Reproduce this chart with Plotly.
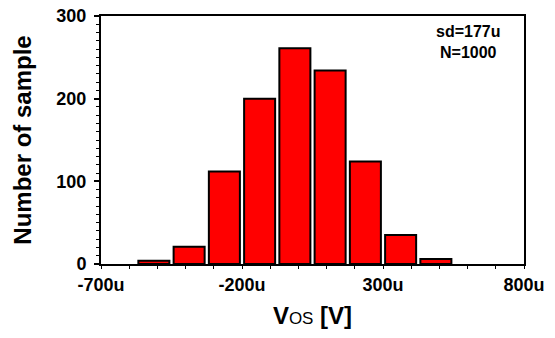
import plotly.graph_objects as go

# bin centers in microvolts, bin width 125u
bin_centers = [-512.5, -387.5, -262.5, -137.5, -12.5, 112.5, 237.5, 362.5, 487.5]
counts = [4, 21, 112, 200, 261, 234, 124, 35, 6]
x_tickvals = [-700, -200, 300, 800]
x_ticktext = ["-700u", "-200u", "300u", "800u"]
y_tickvals = [0, 100, 200, 300]
stats_text = "sd=177u<br>N=1000"

FONT = "Arial, Liberation Sans, sans-serif"

fig = go.Figure()
fig.add_trace(go.Bar(
    x=bin_centers, y=counts, width=[110] * len(bin_centers),
    marker=dict(color="#FF0000", line=dict(color="black", width=2)),
))

fig.update_layout(
    width=555, height=338,
    margin=dict(l=101, r=31, t=16, b=74),
    paper_bgcolor="white", plot_bgcolor="white",
    showlegend=False,
    font=dict(family=FONT, color="black"),
)
fig.update_xaxes(
    range=[-700, 800], tickvals=x_tickvals, ticktext=x_ticktext, automargin=False,
    tickfont=dict(size=18, family=FONT, weight="bold"),
    showline=True, linecolor="black", linewidth=2, mirror=True,
    ticks="outside", ticklen=3, tickwidth=1, tickcolor="black",
    minor=dict(dtick=100, tick0=-700, ticks="outside", ticklen=3, tickcolor="black", tickwidth=1),
    showgrid=False, zeroline=False, ticklabelstandoff=0,
    title=dict(text="V<span style='font-size:17px;font-weight:normal'>OS</span> [V]",
               font=dict(size=24, family=FONT, weight="bold"), standoff=14),
)
fig.update_yaxes(
    range=[0, 300], tickvals=y_tickvals, automargin=False,
    tickfont=dict(size=18, family=FONT, weight="bold"),
    showline=True, linecolor="black", linewidth=2, mirror=True,
    ticks="outside", ticklen=5, tickwidth=2, tickcolor="black",
    minor=dict(dtick=10, tick0=0, ticks="outside", ticklen=3, tickcolor="black", tickwidth=1),
    showgrid=False, zeroline=False, ticklabelstandoff=4,
    title=dict(text="Number of sample", font=dict(size=24, family=FONT, weight="bold"), standoff=18),
)
fig.add_annotation(
    xref="paper", yref="paper",
    x=(468 - 101) / 423, y=1 - (42 - 16) / 248,
    text=stats_text, showarrow=False,
    font=dict(size=16, family=FONT, weight="bold"), align="center",
    xanchor="center", yanchor="middle",
)
fig.write_html("out.html")
